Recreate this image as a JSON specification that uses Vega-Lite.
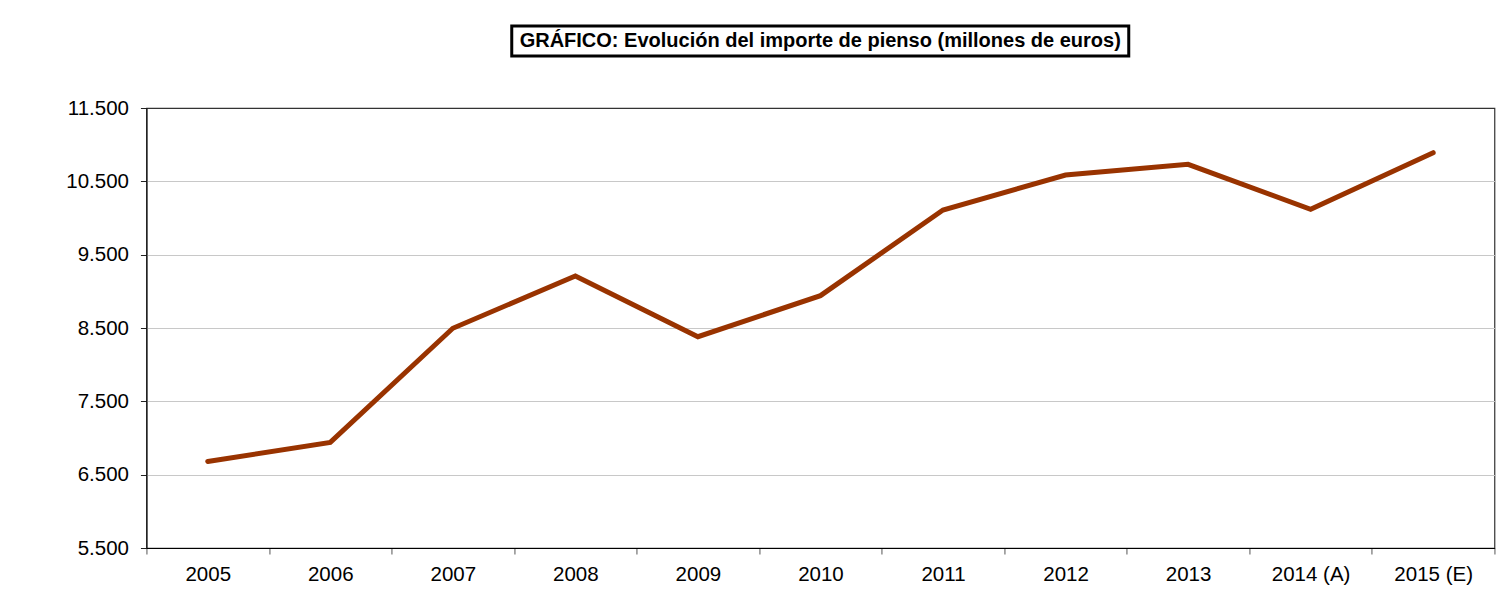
{
  "$schema": "https://vega.github.io/schema/vega-lite/v6.json",
  "padding": {"left": 65, "top": 24, "right": 0, "bottom": 0},
  "background": "white",
  "spacing": 39,
  "center": true,
  "config": {"font": "Liberation Sans"},
  "vconcat": [
    {
      "width": 617,
      "height": 30,
      "view": {"stroke": "black", "strokeWidth": 3, "fill": "white"},
      "data": {"values": [{"titulo": "GRÁFICO: Evolución del importe de pienso (millones de euros)"}]},
      "mark": {"type": "text", "font": "Liberation Sans", "fontWeight": "bold", "fontSize": 20, "color": "black", "baseline": "middle", "align": "center"},
      "encoding": {"text": {"field": "titulo", "type": "nominal"}}
    },
    {
      "width": 1348,
      "height": 440,
      "view": {"stroke": "#333333", "strokeWidth": 1.2},
      "data": {
        "values": [
          {"anio": "2005", "valor": 6680},
          {"anio": "2006", "valor": 6940},
          {"anio": "2007", "valor": 8496},
          {"anio": "2008", "valor": 9209},
          {"anio": "2009", "valor": 8381},
          {"anio": "2010", "valor": 8941},
          {"anio": "2011", "valor": 10109},
          {"anio": "2012", "valor": 10586},
          {"anio": "2013", "valor": 10732},
          {"anio": "2014 (A)", "valor": 10118},
          {"anio": "2015 (E)", "valor": 10891}
        ]
      },
      "mark": {"type": "line", "color": "#993300", "strokeWidth": 5, "strokeCap": "round", "strokeJoin": "miter"},
      "encoding": {
        "x": {
          "field": "anio",
          "type": "ordinal",
          "sort": null,
          "scale": {"type": "band", "paddingInner": 0, "paddingOuter": 0},
          "axis": {
            "title": null,
            "labelAngle": 0,
            "tickBand": "extent",
            "grid": false,
            "domainColor": "black",
            "domainWidth": 1,
            "tickColor": "#555555",
            "tickSize": 6,
            "labelFont": "Liberation Sans",
            "labelFontSize": 20.5,
            "labelColor": "black",
            "labelPadding": 10
          }
        },
        "y": {
          "field": "valor",
          "type": "quantitative",
          "scale": {"domain": [5500, 11500], "nice": false, "zero": false},
          "axis": {
            "title": null,
            "values": [5500, 6500, 7500, 8500, 9500, 10500, 11500],
            "labelExpr": "replace(format(datum.value, ','), ',', '.')",
            "grid": true,
            "gridColor": {"condition": {"test": "datum.value == 11500", "value": "#333333"}, "value": "#c8c8c8"},
            "gridWidth": 1,
            "domainColor": "black",
            "domainWidth": 1,
            "tickColor": "#222222",
            "tickSize": 6,
            "labelFont": "Liberation Sans",
            "labelFontSize": 20.5,
            "labelColor": "black",
            "labelPadding": 12
          }
        }
      }
    }
  ]
}
